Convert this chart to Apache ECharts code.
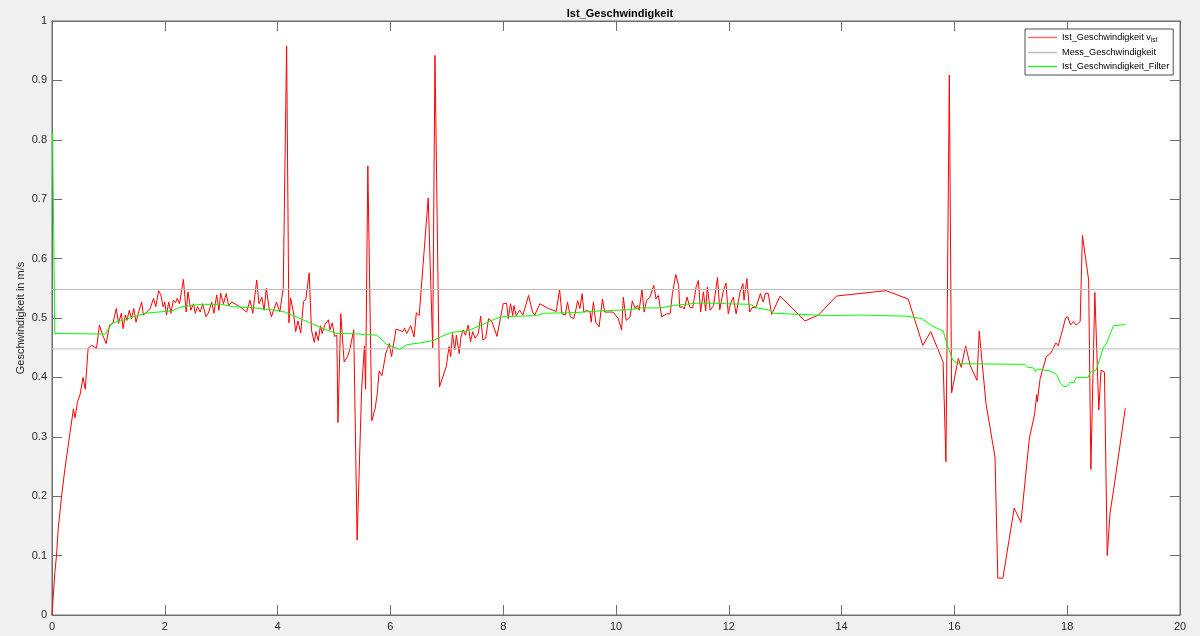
<!DOCTYPE html>
<html>
<head>
<meta charset="utf-8">
<script src="https://cdn.jsdelivr.net/npm/echarts@6/dist/echarts.min.js"></script>
<style>
html,body{margin:0;padding:0;background:#f0f0f0;}
#chart{width:1200px;height:636px;}
</style>
</head>
<body>
<div id="chart"></div>
<script>
const xTicks = [0,2,4,6,8,10,12,14,16,18,20];
const yTicks = [0,0.1,0.2,0.3,0.4,0.5,0.6,0.7,0.8,0.9,1];

const tIst = [0,0.03,0.05,0.08,0.11,0.17,0.23,0.32,0.38,0.41,0.45,0.50,0.55,0.59,0.64,0.70,0.79,0.84,0.90,0.96,
1.02,1.08,1.14,1.18,1.23,1.26,1.30,1.33,1.37,1.41,1.45,1.49,1.53,1.59,1.62,1.66,1.74,1.80,1.84,1.89,1.93,1.97,
2.00,2.03,2.07,2.11,2.15,2.19,2.22,2.26,2.33,2.38,2.41,2.46,2.51,2.54,2.58,2.63,2.67,2.73,2.78,2.83,2.87,2.92,2.96,2.99,
3.04,3.09,3.13,3.19,3.33,3.45,3.51,3.56,3.63,3.67,3.72,3.76,3.80,3.85,3.89,3.94,3.98,
4.04,4.10,4.16,4.20,4.23,4.28,4.32,4.36,4.41,4.46,4.50,4.56,4.60,4.65,4.68,4.72,4.76,4.79,4.84,4.90,4.93,4.97,
5.01,5.05,5.07,5.12,5.18,5.24,5.28,5.35,5.41,5.49,5.54,5.56,5.60,5.67,5.73,5.77,5.80,5.85,5.92,5.98,
6.02,6.05,6.10,6.17,6.22,6.25,6.29,6.36,6.42,6.46,6.51,6.67,6.75,6.79,6.87,6.94,6.99,
7.04,7.07,7.10,7.14,7.17,7.22,7.25,7.29,7.33,7.38,7.42,7.46,7.50,7.56,7.60,7.64,7.69,7.74,7.80,7.89,
8.00,8.06,8.09,8.13,8.17,8.19,8.23,8.29,8.35,8.45,8.52,8.56,8.65,8.80,8.94,
9.00,9.04,9.10,9.14,9.19,9.25,9.28,9.32,9.36,9.40,9.43,9.48,9.54,9.56,9.60,9.64,9.70,9.76,9.80,9.86,9.95,
10.04,10.10,10.13,10.18,10.25,10.29,10.34,10.38,10.41,10.46,10.50,10.54,10.60,10.67,10.71,10.75,10.81,10.90,10.96,
11.00,11.06,11.11,11.13,11.18,11.21,11.26,11.31,11.36,11.42,11.46,11.50,11.55,11.59,11.62,11.67,11.73,11.80,11.84,11.90,11.95,11.99,
12.03,12.08,12.13,12.20,12.25,12.27,12.32,12.37,12.42,12.48,12.56,12.61,12.65,12.70,12.76,12.91,
13.35,13.59,13.91,14.79,15.18,15.44,15.58,15.80,15.85,15.91,15.95,
16.07,16.12,16.20,16.28,16.40,16.44,16.56,16.72,16.77,16.86,
17.06,17.18,17.33,17.42,17.46,17.47,17.52,17.63,17.71,17.80,17.84,17.92,17.97,
18.01,18.06,18.11,18.16,18.23,18.27,18.38,18.42,18.49,18.56,18.60,18.66,18.71,18.76,18.82,19.03];

const vIst = [0,0.0,0.071,0.10,0.145,0.20,0.247,0.307,0.347,0.332,0.358,0.372,0.40,0.38,0.449,0.454,0.449,0.488,0.471,0.457,
0.488,0.491,0.516,0.491,0.508,0.482,0.505,0.496,0.513,0.499,0.516,0.493,0.508,0.527,0.505,0.508,0.516,0.533,0.519,0.546,0.539,0.519,
0.527,0.505,0.527,0.508,0.530,0.526,0.533,0.524,0.565,0.510,0.544,0.513,0.524,0.508,0.519,0.510,0.524,0.502,0.510,0.527,0.508,0.539,0.513,0.542,
0.524,0.541,0.521,0.527,0.519,0.510,0.530,0.508,0.564,0.524,0.535,0.513,0.550,0.516,0.502,0.516,0.527,
0.510,0.550,0.958,0.492,0.534,0.510,0.477,0.495,0.475,0.528,0.531,0.576,0.480,0.459,0.477,0.462,0.487,0.474,0.489,0.497,0.480,0.492,
0.469,0.471,0.324,0.507,0.426,0.435,0.447,0.480,0.126,0.380,0.453,0.380,0.756,0.327,0.348,0.375,0.411,0.403,0.441,0.457,
0.435,0.437,0.481,0.479,0.477,0.483,0.474,0.487,0.468,0.509,0.504,0.702,0.450,0.942,0.384,0.404,0.418,
0.452,0.435,0.474,0.446,0.471,0.440,0.468,0.480,0.471,0.488,0.460,0.477,0.466,0.474,0.503,0.463,0.466,0.499,0.494,0.469,
0.524,0.525,0.499,0.524,0.504,0.521,0.504,0.513,0.505,0.538,0.510,0.505,0.524,0.516,0.511,
0.548,0.507,0.505,0.527,0.502,0.499,0.510,0.529,0.516,0.541,0.510,0.513,0.510,0.493,0.527,0.493,0.485,0.532,0.510,0.510,0.510,
0.499,0.480,0.535,0.496,0.502,0.529,0.516,0.521,0.513,0.547,0.510,0.529,0.535,0.555,0.532,0.538,0.502,0.507,0.507,
0.541,0.573,0.555,0.518,0.519,0.515,0.535,0.518,0.517,0.552,0.563,0.510,0.544,0.512,0.552,0.513,0.521,0.568,0.514,0.544,0.559,0.507,
0.524,0.535,0.507,0.544,0.558,0.530,0.566,0.510,0.518,0.517,0.541,0.527,0.542,0.541,0.506,0.537,
0.495,0.505,0.537,0.546,0.532,0.454,0.477,0.426,0.258,0.909,0.374,
0.432,0.417,0.453,0.420,0.395,0.478,0.356,0.266,0.062,0.062,
0.180,0.156,0.298,0.337,0.371,0.359,0.398,0.435,0.441,0.458,0.453,0.481,0.500,
0.502,0.488,0.494,0.488,0.494,0.639,0.564,0.245,0.543,0.345,0.412,0.409,0.100,0.172,0.209,0.348];

const tFilter = [0.01,0.05,0.95,1.06,1.35,1.65,2.12,2.30,2.65,3.00,3.21,3.60,3.96,4.13,4.28,4.57,4.87,5.05,5.46,5.76,5.93,
6.16,6.29,6.52,6.76,6.91,7.09,7.35,7.59,7.82,7.97,8.59,8.71,9.25,9.72,10.25,10.42,10.78,11.02,11.43,11.73,11.96,
12.38,12.50,12.73,12.79,13.03,13.79,14.33,15.15,15.42,15.60,15.80,15.89,15.97,16.07,17.25,17.30,17.40,17.44,17.47,
17.69,17.81,17.87,17.93,18.00,18.06,18.12,18.16,18.37,18.41,18.51,18.58,18.64,18.70,18.82,19.03];
const vFilter = [0.811,0.474,0.473,0.491,0.499,0.508,0.512,0.519,0.523,0.523,0.519,0.517,0.513,0.510,0.504,0.492,0.480,0.474,0.473,0.471,0.456,
0.447,0.455,0.458,0.462,0.469,0.476,0.478,0.487,0.497,0.502,0.504,0.508,0.509,0.512,0.514,0.517,0.517,0.521,0.525,0.525,0.524,
0.523,0.517,0.513,0.508,0.507,0.504,0.505,0.503,0.499,0.487,0.478,0.450,0.429,0.423,0.422,0.417,0.416,0.410,0.414,
0.411,0.405,0.392,0.385,0.385,0.392,0.391,0.400,0.400,0.409,0.412,0.432,0.450,0.458,0.487,0.489];

const messT = [0, 20];
const messUpper = [0.548, 0.548];
const messLower = [0.448, 0.448];

const nameIst = 'Ist_Geschwindigkeit v_ist';
const nameMess = 'Mess_Geschwindigkeit';
const nameFilter = 'Ist_Geschwindigkeit_Filter';

const pairs = (xs, ys) => xs.map((x, i) => [x, ys[i]]);
const axisColor = '#6e6e6e';
const labelColor = '#262626';
const font = '"Liberation Sans", Arial, Helvetica, sans-serif';

const chart = echarts.init(document.getElementById('chart'), null, {renderer: 'canvas'});
chart.setOption({
  backgroundColor: '#f0f0f0',
  animation: false,
  title: {
    text: 'Ist_Geschwindigkeit',
    left: 615, top: 3, textAlign: 'center',
    textStyle: {fontFamily: font, fontSize: 11, fontWeight: 'bold', color: '#000'}
  },
  legend: {
    orient: 'vertical',
    left: 1025, top: 29,
    data: [
      {name: nameIst, icon: 'rect', itemStyle: {color: '#ff6a6a'}},
      {name: nameMess, icon: 'rect', itemStyle: {color: '#bdbdbd'}},
      {name: nameFilter, icon: 'rect', itemStyle: {color: '#33ee33'}}
    ],
    backgroundColor: '#fff',
    borderColor: '#505050', borderWidth: 1, borderRadius: 0,
    padding: [3, 4, 3, 3],
    itemGap: 3,
    itemWidth: 29, itemHeight: 1.5,
    textStyle: {
      fontFamily: font, fontSize: 9.2, color: '#000', height: 11, lineHeight: 11,
      rich: {
        a: {fontFamily: font, fontSize: 9.2, color: '#000'},
        s: {fontFamily: font, fontSize: 6.5, color: '#000', padding: [6, 0, 0, 0]}
      }
    },
    formatter: function (n) {
      if (n === nameIst) return '{a|Ist_Geschwindigkeit v}{s|ist}';
      return '{a|' + n + '}';
    }
  },
  grid: {left: 52, right: 20, top: 21, bottom: 21, show: true, backgroundColor: '#fff', borderColor: axisColor, borderWidth: 1},
  xAxis: [{
    type: 'value', min: 0, max: 20, interval: 2,
    axisLine: {show: true, onZero: false, lineStyle: {color: axisColor}},
    axisTick: {show: true, inside: true, length: 10, lineStyle: {color: axisColor}},
    axisLabel: {color: labelColor, fontFamily: font, fontSize: 11, margin: 6,
      formatter: v => xTicks.includes(v) ? String(v) : ''},
    splitLine: {show: false}
  }, {
    type: 'value', position: 'top', min: 0, max: 20, interval: 2,
    axisLine: {show: true, onZero: false, lineStyle: {color: axisColor}},
    axisTick: {show: true, inside: true, length: 10, lineStyle: {color: axisColor}},
    axisLabel: {show: false}, splitLine: {show: false}
  }],
  yAxis: [{
    type: 'value', min: 0, max: 1, interval: 0.1,
    name: 'Geschwindigkeit in m/s', nameLocation: 'middle', nameGap: 26,
    nameMoveOverlap: false,
    nameTextStyle: {fontFamily: font, fontSize: 11, color: labelColor},
    axisLine: {show: true, onZero: false, lineStyle: {color: axisColor}},
    axisTick: {show: true, inside: true, length: 10, lineStyle: {color: axisColor}},
    axisLabel: {color: labelColor, fontFamily: font, fontSize: 11, margin: 5,
      formatter: v => String(Math.round(v * 10) / 10)},
    splitLine: {show: false}
  }, {
    type: 'value', position: 'right', min: 0, max: 1, interval: 0.1,
    axisLine: {show: true, onZero: false, lineStyle: {color: axisColor}},
    axisTick: {show: true, inside: true, length: 10, lineStyle: {color: axisColor}},
    axisLabel: {show: false}, splitLine: {show: false}
  }],
  series: [
    {name: nameIst, type: 'line', data: pairs(tIst, vIst), symbol: 'none',
      lineStyle: {color: '#ff0000', width: 1}, itemStyle: {color: '#ff0000'}},
    {name: nameMess, type: 'line', data: pairs(messT, messUpper), symbol: 'none',
      lineStyle: {color: '#bdbdbd', width: 1}, itemStyle: {color: '#bdbdbd'}},
    {name: nameMess, type: 'line', data: pairs(messT, messLower), symbol: 'none',
      lineStyle: {color: '#bdbdbd', width: 1}, itemStyle: {color: '#bdbdbd'}},
    {name: nameFilter, type: 'line', data: pairs(tFilter, vFilter), symbol: 'none',
      lineStyle: {color: '#00ff00', width: 1}, itemStyle: {color: '#00ff00'}}
  ]
});
</script>
</body>
</html>
